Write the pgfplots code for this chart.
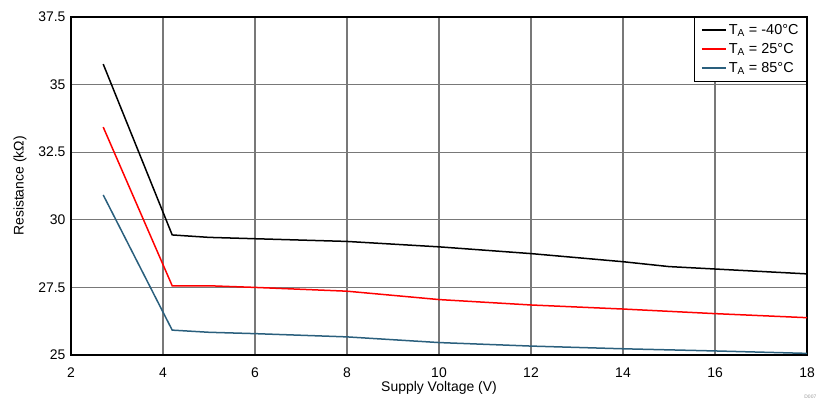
\documentclass[border=0pt]{standalone}
\usepackage{pgfplots}
\pgfplotsset{compat=1.18}
\usepackage{fontspec}
\setmainfont{Liberation Sans}
\definecolor{tiblue}{RGB}{42,95,125}
\definecolor{gridgray}{RGB}{120,120,120}
\begin{document}
\begin{tikzpicture}
\begin{axis}[
  scale only axis,
  width=736bp, height=338bp,
  xmin=2, xmax=18, ymin=25, ymax=37.5,
  xtick={2,4,...,18},
  ytick={25,27.5,30,32.5,35,37.5},
  yticklabels={25,27.5,30,32.5,35,37.5},
  grid=major,
  major grid style={gridgray, line width=1.1bp},
  axis line style={black, line width=1.6bp},
  tick style={draw=none},
  /pgf/number format/assume math mode=true,
  ticklabel style={font=\fontsize{14}{16}\selectfont},
  xticklabel style={yshift=-9bp},
  yticklabel style={xshift=-2bp},
  label style={font=\fontsize{14}{16}\selectfont},
  xlabel={Supply Voltage (V)},
  ylabel={Resistance (kΩ)},
  xlabel style={yshift=3bp},
  ylabel style={yshift=5bp},
  legend style={at={(1,1)}, anchor=north east, draw=black, line width=1bp,
    font=\fontsize{14.5}{17}\selectfont, row sep=3.5bp, inner xsep=6bp, inner ysep=5bp, legend cell align=left},
  legend image code/.code={\draw[#1, line width=2bp] (0bp,0bp) -- (24bp,0bp);},
  every axis plot/.append style={line width=1.5bp},
]
\addplot[black] coordinates {(2.7,35.76) (4.2,29.44) (5,29.35) (6,29.3) (8,29.2) (10,29.0) (12,28.75) (14,28.45) (15,28.27) (16,28.18) (18,28.0)};
\addlegendentry{T\textsubscript{A} = -40°C}
\addplot[red] coordinates {(2.7,33.43) (4.2,27.56) (5,27.56) (6,27.5) (8,27.36) (10,27.05) (12,26.85) (14,26.7) (16,26.53) (18,26.38)};
\addlegendentry{T\textsubscript{A} = 25°C}
\addplot[tiblue] coordinates {(2.7,30.92) (4.2,25.92) (5,25.84) (6,25.79) (8,25.67) (10,25.46) (12,25.33) (14,25.23) (16,25.15) (18,25.06)};
\addlegendentry{T\textsubscript{A} = 85°C}
\end{axis}
\node[anchor=south east, font=\fontsize{5}{6}\selectfont, text=gray!80, inner sep=0.5pt] at ([shift={(10bp,-44bp)}]current axis.south east) {D007};
\pgfresetboundingbox
\path ([shift={(-71bp,-46bp)}]current axis.south west) rectangle ([shift={(10bp,17bp)}]current axis.north east);
\end{tikzpicture}
\end{document}
